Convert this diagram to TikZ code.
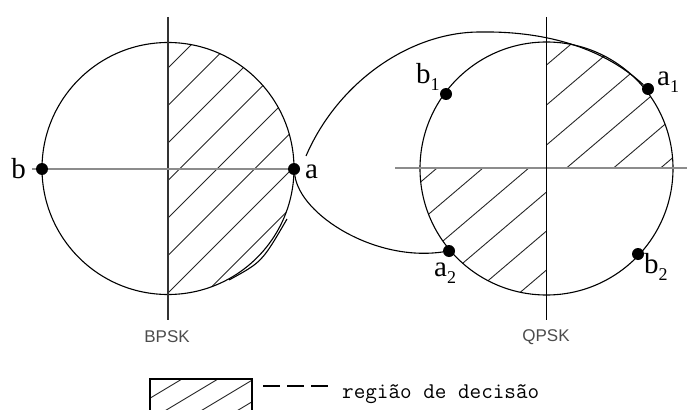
\documentclass[tikz,border=0pt]{standalone}
\usepackage{fontspec}
\setmainfont{Liberation Serif}
\setsansfont{Liberation Sans}

% label with a lowered small index
\newcommand{\idxlbl}[2]{#1\raisebox{-7pt}{\fontsize{18}{18}\selectfont #2}}

\begin{document}
\begin{tikzpicture}[x=1pt, y=-1pt,
    ring/.style={draw, line width=1.1pt},
    dot/.style={circle, fill=black, inner sep=0pt, minimum size=12pt},
    lbl/.style={font=\fontsize{29}{29}\selectfont, inner sep=0pt, anchor=base west},
    haxis/.style={line width=2.2pt, black!45},
    vaxis/.style={line width=1.3pt, black!80},
    hatch/.style={line width=0.9pt, black!85},
    tag/.style={font=\sffamily\fontsize{17}{17}\selectfont, text=black!70},
    looppath/.style={line width=1.1pt},
    legdash/.style={line width=2.4pt, dash pattern=on 17pt off 7pt}
]
\clip (0,0) rectangle (687,409);

% ---------- BPSK ----------
\begin{scope}
  \clip (168,17) rectangle (300,320);
  \clip (168,168.5) circle [radius=126pt];
  \foreach \c in {68,105.5,...,331} \draw[hatch] (168,\c) -- ++(170,-170);
\end{scope}
\draw[ring] (168,168.5) circle [radius=126pt];
\draw[vaxis] (168,17) -- (168,320);
\draw[haxis] (32,169) -- (294,169);
\draw[looppath] (229,280) .. controls (262,262) .. (287,219);

\node[dot] (b) at (42,169) {};
\node[dot] (a) at (294,169) {};
\node[lbl, anchor=base east] (lb) at (26,178) {b};
\node[lbl] (la) at (305,178) {a};
\node[tag] (bpsk) at (167,337) {BPSK};

% ---------- QPSK ----------
\begin{scope}
  \clip (546.5,17) rectangle (700,168);
  \clip (546.5,168.5) circle [radius=126.5pt];
  \foreach \c in {65,105,...,300} \draw[hatch] (546.5,\c) -- ++(200,-170);
\end{scope}
\begin{scope}
  \clip (400,168) rectangle (546.5,320);
  \clip (546.5,168.5) circle [radius=126.5pt];
  \foreach \c in {75,114,...,300} \draw[hatch] (546.5,\c) -- ++(-200,170);
\end{scope}
\draw[ring] (546.5,168.5) circle [radius=126.5pt];
\draw[haxis, line width=2.6pt] (395,168) -- (687,168);
\draw[vaxis, black] (546.5,17) -- (546.5,320);

\node[dot] (b1) at (446,94) {};
\node[dot] (a1) at (648,89) {};
\node[dot] (a2) at (449,251) {};
\node[dot] (b2) at (638,254) {};
\node[lbl] (lb1) at (416,84) {\idxlbl{b}{1}};
\node[lbl] (la1) at (657,86) {\idxlbl{a}{1}};
\node[lbl] (la2) at (434,276) {\idxlbl{a}{2}};
\node[lbl] (lb2) at (644,273) {\idxlbl{b}{2}};
\node[tag] (qpsk) at (546,337) {QPSK};

% ---------- loops from a ----------
\coordinate (aup) at (306,156);
\draw[looppath] (aup) .. controls (338,82) and (410,32) .. (480,32)
                  .. controls (540,31) and (600,45) .. (a1);
\draw[looppath] (a) .. controls (300,215) and (375,262) .. (a2);

% ---------- legend ----------
\begin{scope}
  \clip (150,379) rectangle (252,412);
  \foreach \x in {146,182,...,300} \draw[hatch] (\x,379) ++(-60,36) -- ++(80,-48);
\end{scope}
\draw[line width=1.4pt] (150,415) -- (150,379) -- (252,379) -- (252,415);
\draw[legdash] (263,386) -- (330,386);
\node[font=\ttfamily\fontsize{22.5}{22.5}\selectfont, anchor=base west, inner sep=0pt] (leg) at (342,398) {região de decisão};

\end{tikzpicture}
\end{document}
